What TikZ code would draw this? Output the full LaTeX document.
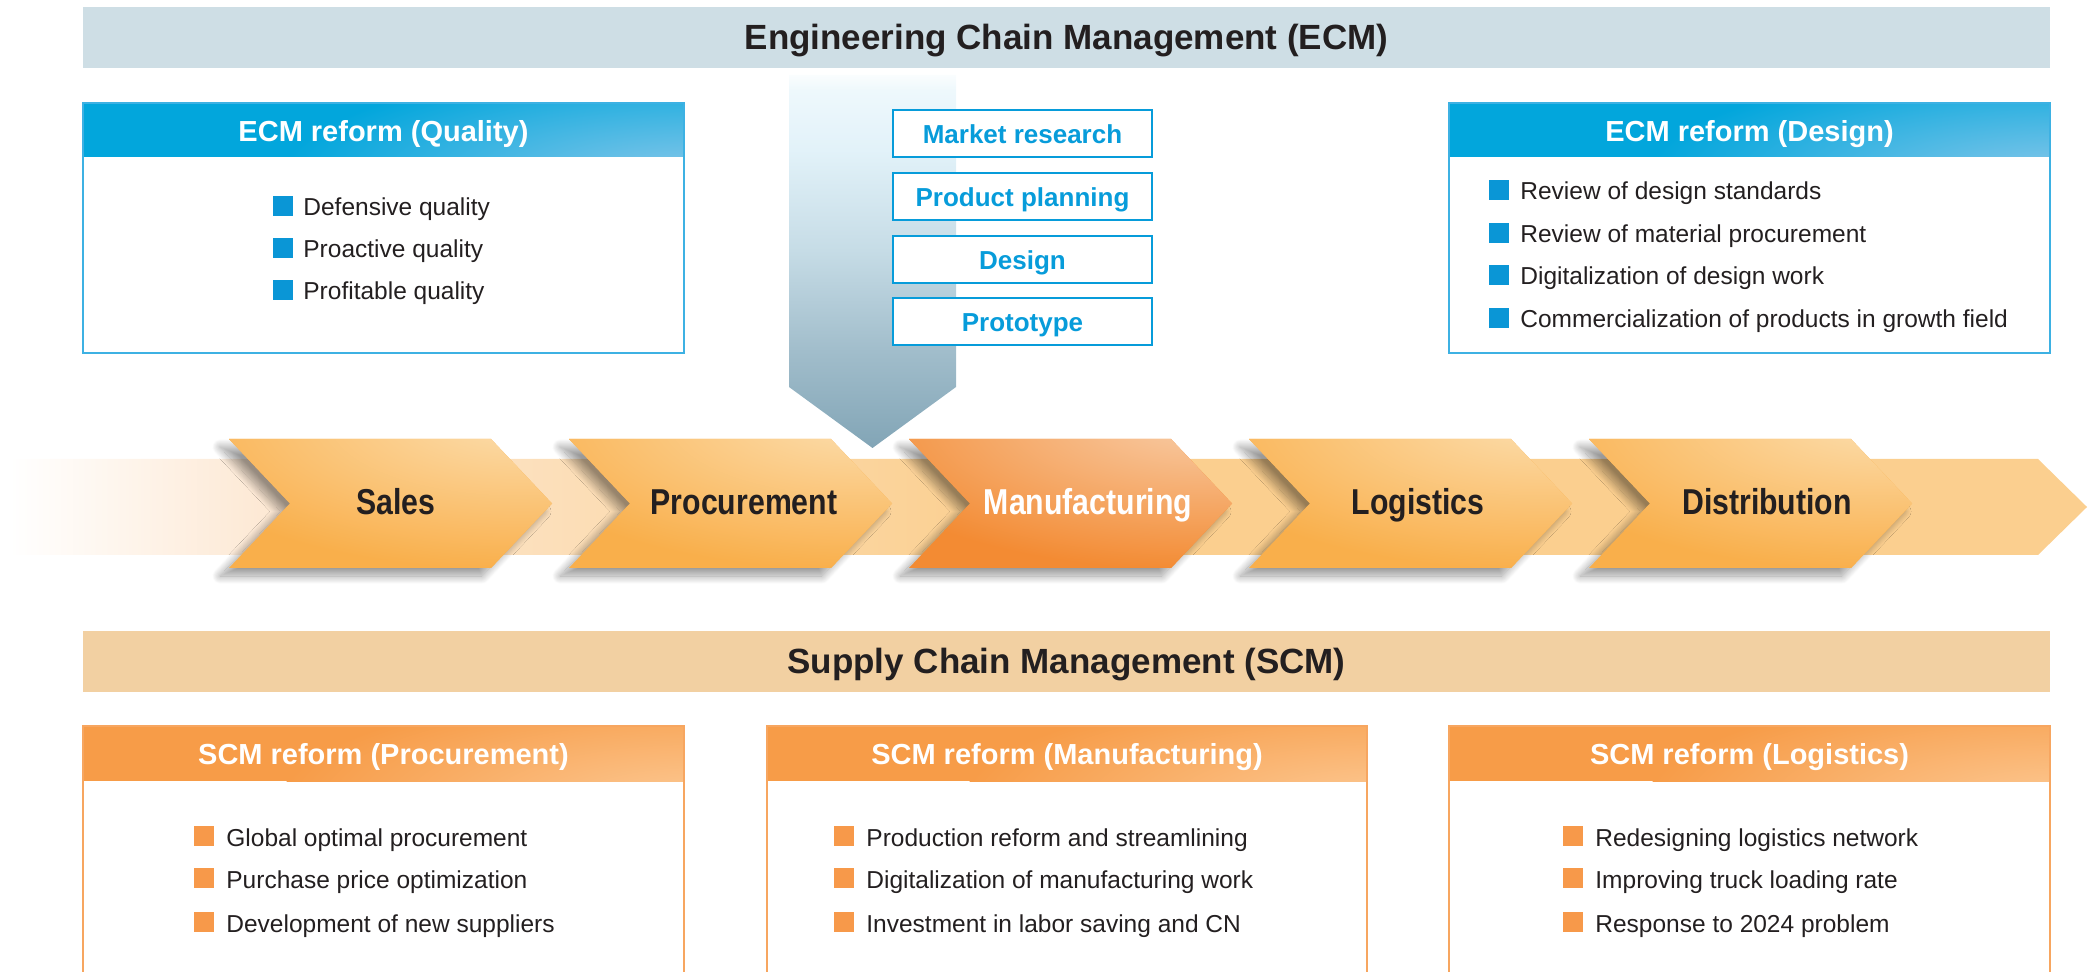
\documentclass[tikz,border=0pt]{standalone}
\usepackage{fontspec}
\setmainfont{Liberation Sans}
\usepackage{graphicx}
\usetikzlibrary{shadows.blur}

\definecolor{ecmbanner}{HTML}{CEDEE5}
\definecolor{scmbanner}{HTML}{F2D0A2}
\definecolor{txt}{HTML}{231F20}
\definecolor{ecmblue}{HTML}{02A6DC}
\definecolor{ecmhl}{HTML}{8AC8EA}
\definecolor{ecmborder}{HTML}{3DB1E3}
\definecolor{bulblue}{HTML}{0A96D6}
\definecolor{boxblue}{HTML}{079CDA}
\definecolor{scmorange}{HTML}{F79C48}
\definecolor{scmhl}{HTML}{FCC994}
\definecolor{scmborder}{HTML}{F7A660}
\definecolor{bulorange}{HTML}{F7994A}
\definecolor{chevbase}{HTML}{F9AF4B}
\definecolor{chevhl}{HTML}{FCDEAE}
\definecolor{manbase}{HTML}{F38B33}
\definecolor{manhl}{HTML}{F8CDA8}
\definecolor{bandA}{HTML}{FDE9D5}
\definecolor{bandB}{HTML}{FBCF8F}
\definecolor{arA}{HTML}{82A5B6}
\definecolor{arB}{HTML}{A1BDCB}
\definecolor{arC}{HTML}{C6DCE6}
\definecolor{arD}{HTML}{E2F2F9}
\definecolor{arE}{HTML}{EEF8FC}
\definecolor{arF}{HTML}{FAFDFE}

\pgfdeclarehorizontalshading{bandshade}{100bp}{color(0bp)=(white); color(25bp)=(white); color(31bp)=(bandA); color(49bp)=(bandB); color(100bp)=(bandB)}
\pgfdeclareverticalshading{arrowshade}{100bp}{color(0bp)=(arA); color(25bp)=(arA); color(38bp)=(arB); color(51.5bp)=(arC); color(65bp)=(arD); color(73bp)=(arE); color(75bp)=(arF); color(100bp)=(arF)}

\tikzset{
  bigtitle/.style={font=\fontsize{17.5}{20}\selectfont\bfseries, text=txt, anchor=base, inner sep=0pt},
  hdrtxt/.style={font=\fontsize{14.5}{17}\selectfont\bfseries, text=white, anchor=base, inner sep=0pt},
  stagebox/.style={draw=boxblue, line width=1.1pt, fill=white},
  stagetxt/.style={font=\fontsize{13}{15}\selectfont\bfseries, text=boxblue, anchor=base, inner sep=0pt},
  itemtxt/.style={font=\fontsize{12.25}{14}\selectfont, text=txt, anchor=base west, inner sep=0pt},
  chevlabel/.style={font=\fontsize{18}{21}\selectfont\bfseries, anchor=base, inner sep=0pt},
  chevshadow/.style={blur shadow={shadow xshift=-4.5pt, shadow yshift=-4pt, shadow blur radius=4pt, shadow blur steps=24, shadow opacity=40}},
}

\newcommand{\bulitem}[6]{%
  \fill[#1] (#2,#3) rectangle ++(20,-20);
  \node[itemtxt] (#5) at (#4,#3) {#6};
}

\begin{document}
\begin{tikzpicture}[x=0.5pt, y=-0.5pt]
\useasboundingbox (0,0) rectangle (2098,972);

% ECM banner
\fill[ecmbanner] (83,7) rectangle (2050,68);
\node[bigtitle] (ecm) at (1066.5,50) {Engineering Chain Management (ECM)};

% ECM reform (Quality)
\begin{scope}
  \clip (83,103) rectangle (684,157);
  \fill[ecmblue] (83,103) rectangle (684,157);
  \shade[inner color=ecmhl, outer color=ecmblue] (700,178) ellipse [x radius=420, y radius=115];
\end{scope}
\draw[ecmborder, line width=0.8pt] (83,103) rectangle (684,353);
\node[hdrtxt] (qh) at (383.5,142) {ECM reform (Quality)};
\bulitem{bulblue}{273}{216}{303}{q1}{Defensive quality}
\bulitem{bulblue}{273}{258}{303}{q2}{Proactive quality}
\bulitem{bulblue}{273}{300}{303}{q3}{Profitable quality}

% ECM reform (Design)
\begin{scope}
  \clip (1449,103) rectangle (2050,157);
  \fill[ecmblue] (1449,103) rectangle (2050,157);
  \shade[inner color=ecmhl, outer color=ecmblue] (2066,178) ellipse [x radius=420, y radius=115];
\end{scope}
\draw[ecmborder, line width=0.8pt] (1449,103) rectangle (2050,353);
\node[hdrtxt] (dh) at (1749.5,142) {ECM reform (Design)};
\bulitem{bulblue}{1489}{200}{1520}{d1}{Review of design standards}
\bulitem{bulblue}{1489}{243}{1520}{d2}{Review of material procurement}
\bulitem{bulblue}{1489}{285}{1520}{d3}{Digitalization of design work}
\bulitem{bulblue}{1489}{328}{1520}{d4}{Commercialization of products in growth field}

% down arrow
\shade[shading=arrowshade] (789,75) -- (956,75) -- (956,387) -- (872.5,448) -- (789,387) -- cycle;

% stage boxes
\draw[stagebox] (893,110) rectangle (1152,157);
\node[stagetxt] (mr) at (1022.5,144) {Market research};
\draw[stagebox] (893,173) rectangle (1152,220);
\node[stagetxt] (pp) at (1022.5,206.5) {Product planning};
\draw[stagebox] (893,236) rectangle (1152,283);
\node[stagetxt] (de) at (1022.5,269.5) {Design};
\draw[stagebox] (893,298) rectangle (1152,345);
\node[stagetxt] (pt) at (1022.5,331.5) {Prototype};

% band
\shade[shading=bandshade] (10,459) -- (2038,459) -- (2087,507) -- (2038,555) -- (10,555) -- cycle;

% chevrons
\foreach \L/\bc/\hc/\lab/\tc/\tx/\nm in {229/chevbase/chevhl/Sales/txt/396/sales, 569/chevbase/chevhl/Procurement/txt/744/proc, 909/manbase/manhl/Manufacturing/white/1088/manu, 1249/chevbase/chevhl/Logistics/txt/1418/logi, 1589/chevbase/chevhl/Distribution/txt/1767/dist}{
  \fill[\bc, chevshadow] (\L,439) -- ++(262,0) -- ++(61,64.5) -- ++(-61,64.5) -- ++(-262,0) -- ++(61,-64.5) -- cycle;
  \begin{scope}
    \clip (\L,439) -- ++(262,0) -- ++(61,64.5) -- ++(-61,64.5) -- ++(-262,0) -- ++(61,-64.5) -- cycle;
    \shade[inner color=\hc, outer color=\bc] (\L+290,420) ellipse [x radius=380, y radius=150];
  \end{scope}
  \node[chevlabel, text=\tc] (\nm) at (\tx,515) {\scalebox{0.84}[1]{\lab}};
}

% SCM banner
\fill[scmbanner] (83,631) rectangle (2050,692);
\node[bigtitle] (scm) at (1066.5,673) {Supply Chain Management (SCM)};

% SCM boxes
\foreach \xa/\xb/\lab/\nm in {83/684/Procurement/sp, 767/1367/Manufacturing/sm, 1449/2050/Logistics/sl}{
  \begin{scope}
    \clip (\xa,726) rectangle (\xb,781);
    \fill[scmorange] (\xa,726) rectangle (\xb,781);
    \shade[inner color=scmhl, outer color=scmorange] (\xb+16,802) ellipse [x radius=420, y radius=115];
  \end{scope}
  \draw[scmborder, line width=0.8pt] (\xa,972) -- (\xa,726) -- (\xb,726) -- (\xb,972);
  \node[hdrtxt] (\nm) at ({(\xa+\xb)/2},764) {SCM reform (\lab)};
}
\bulitem{bulorange}{194}{846}{226}{p1}{Global optimal procurement}
\bulitem{bulorange}{194}{888}{226}{p2}{Purchase price optimization}
\bulitem{bulorange}{194}{932}{226}{p3}{Development of new suppliers}
\bulitem{bulorange}{834}{846}{866}{m1}{Production reform and streamlining}
\bulitem{bulorange}{834}{888}{866}{m2}{Digitalization of manufacturing work}
\bulitem{bulorange}{834}{932}{866}{m3}{Investment in labor saving and CN}
\bulitem{bulorange}{1563}{846}{1595}{l1}{Redesigning logistics network}
\bulitem{bulorange}{1563}{888}{1595}{l2}{Improving truck loading rate}
\bulitem{bulorange}{1563}{932}{1595}{l3}{Response to 2024 problem}
\end{tikzpicture}
\end{document}
